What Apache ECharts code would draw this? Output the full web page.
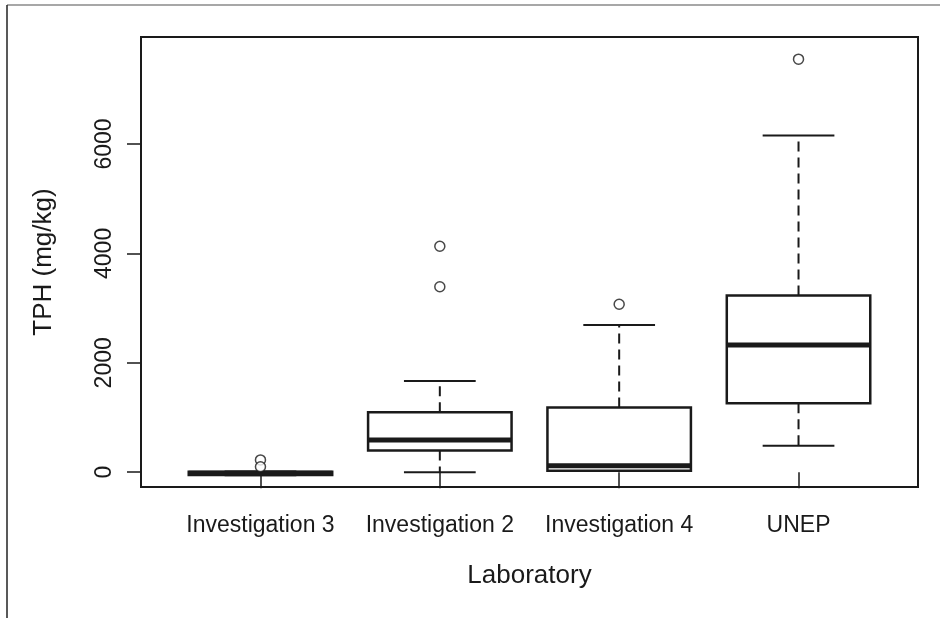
<!DOCTYPE html>
<html><head><meta charset="utf-8">
<script src="https://cdn.jsdelivr.net/npm/echarts@6/dist/echarts.min.js"></script>
<style>html,body{margin:0;padding:0;background:#fff}#c{width:940px;height:618px}</style>
</head><body><div id="c"></div>
<script>
const categories = ['Investigation 3', 'Investigation 2', 'Investigation 4', 'UNEP'];
const whiskerLow = [-55, 0, 25, 486];
const q1 = [-50, 395, 25, 1261];
const median = [-20, 590, 120, 2327];
const q3 = [10, 1097, 1181, 3229];
const whiskerHigh = [15, 1669, 2693, 6154];
const outlierCategory = [0, 0, 1, 1, 2, 3];
const outlierValue = [225, 100, 4130, 3390, 3070, 7550];
const yTicks = [0, 2000, 4000, 6000];
const yMin = -270, yMax = 7955;

const ink = '#1a1a1a';
const font = '"Liberation Sans", Arial, Helvetica, sans-serif';

const boxData = categories.map((c, i) => [i, whiskerLow[i], q1[i], median[i], q3[i], whiskerHigh[i]]);
const outlierData = outlierCategory.map((c, i) => [c, outlierValue[i]]);

function renderBox(params, api) {
  const i = api.value(0);
  const band = api.size([1, 0])[0];
  const bw = band * 0.8, sw = band * 0.4;
  const pLo = api.coord([i, api.value(1)]);
  const pQ1 = api.coord([i, api.value(2)]);
  const pMed = api.coord([i, api.value(3)]);
  const pQ3 = api.coord([i, api.value(4)]);
  const pHi = api.coord([i, api.value(5)]);
  const x = pMed[0];
  const dash = { stroke: ink, lineWidth: 2, lineDash: [10, 6] };
  const solid = { stroke: ink, lineWidth: 2 };
  return {
    type: 'group',
    children: [
      { type: 'line', shape: { x1: x, y1: pQ3[1], x2: x, y2: pHi[1] }, style: dash },
      { type: 'line', shape: { x1: x, y1: pQ1[1], x2: x, y2: pLo[1] }, style: dash },
      { type: 'line', shape: { x1: x - sw / 2, y1: pHi[1], x2: x + sw / 2, y2: pHi[1] }, style: solid },
      { type: 'line', shape: { x1: x - sw / 2, y1: pLo[1], x2: x + sw / 2, y2: pLo[1] }, style: solid },
      { type: 'rect', shape: { x: x - bw / 2, y: pQ3[1], width: bw, height: pQ1[1] - pQ3[1] },
        style: { fill: '#fff', stroke: ink, lineWidth: 2.5 } },
      { type: 'line', shape: { x1: x - bw / 2, y1: pMed[1], x2: x + bw / 2, y2: pMed[1] },
        style: { stroke: ink, lineWidth: 5 } }
    ]
  };
}

const chart = echarts.init(document.getElementById('c'), null, { renderer: 'canvas' });
chart.setOption({
  backgroundColor: '#fff',
  animation: false,
  graphic: [
    { type: 'line', shape: { x1: 7, y1: 5, x2: 940, y2: 5 }, style: { stroke: '#8a8a8a', lineWidth: 1.5 } },
    { type: 'line', shape: { x1: 7, y1: 5, x2: 7, y2: 618 }, style: { stroke: '#222', lineWidth: 1.5 } }
  ],
  grid: [
    { left: 170.8, right: 51.8, top: 37, bottom: 131 },
    { left: 141, right: 22, top: 37, bottom: 131, show: true, borderColor: ink, borderWidth: 2, backgroundColor: 'transparent' }
  ],
  xAxis: [
    {
      gridIndex: 0, type: 'category', data: categories,
      axisLine: { show: false },
      axisTick: { show: true, alignWithLabel: true, interval: 0, length: 16, lineStyle: { color: ink, width: 1.5 } },
      axisLabel: { color: ink, fontFamily: font, fontSize: 23, margin: 27, interval: 0, hideOverlap: false },
      name: 'Laboratory', nameLocation: 'middle', nameGap: 76,
      nameTextStyle: { color: ink, fontFamily: font, fontSize: 26 }
    },
    { gridIndex: 1, type: 'value', show: false, min: 0, max: 1 }
  ],
  yAxis: [
    { gridIndex: 0, type: 'value', min: yMin, max: yMax, show: false },
    {
      gridIndex: 1, type: 'value', min: yMin, max: yMax,
      splitLine: { show: false },
      axisLine: { show: false },
      axisTick: { show: true, length: 14, customValues: yTicks, lineStyle: { color: ink, width: 1.5 } },
      axisLabel: { color: ink, fontFamily: font, fontSize: 23, rotate: 90, margin: 25, customValues: yTicks,
        formatter: v => String(v) },
      name: 'TPH (mg/kg)', nameLocation: 'middle', nameRotate: 90, nameGap: 84,
      nameTextStyle: { color: ink, fontFamily: font, fontSize: 26 }
    }
  ],
  series: [
    {
      type: 'custom', xAxisIndex: 0, yAxisIndex: 0,
      data: boxData, encode: { x: 0, y: [1, 2, 3, 4, 5] },
      renderItem: renderBox, silent: true
    },
    {
      type: 'scatter', xAxisIndex: 0, yAxisIndex: 0,
      data: outlierData, symbol: 'circle', symbolSize: 10,
      itemStyle: { color: '#fff', borderColor: ink, borderWidth: 1.5 }, silent: true
    }
  ]
});
</script></body></html>
